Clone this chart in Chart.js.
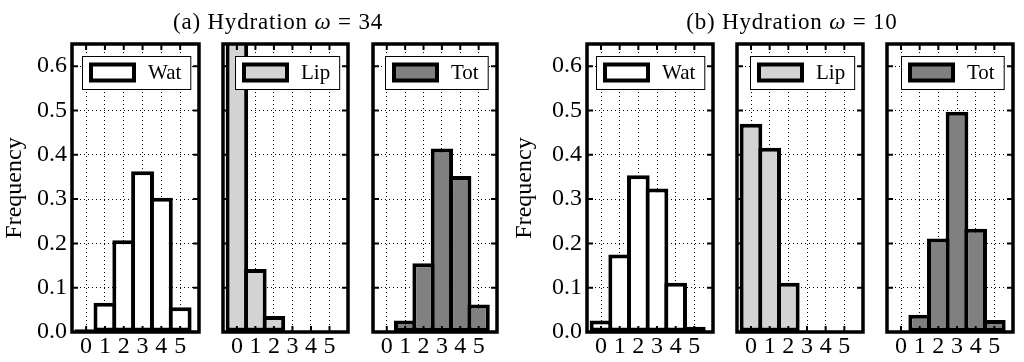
<!DOCTYPE html>
<html><head><meta charset="utf-8">
<script src="https://cdn.jsdelivr.net/npm/chart.js@4"></script>
<style>
html,body{margin:0;padding:0;background:#fff;}
#wrap{position:relative;width:1024px;height:362px;overflow:hidden;background:#fff;}
#wrap canvas{position:absolute;top:0;}
.ttl{position:absolute;top:10px;font-family:"Liberation Serif",serif;font-size:23px;line-height:23px;white-space:nowrap;text-align:center;width:300px;z-index:5;letter-spacing:0.8px;color:#000;}
</style></head><body>
<div id="wrap"></div>
<script>
// ---- data ----
const bins = [0, 1, 2, 3, 4, 5];
const yTicks = [0, 0.1, 0.2, 0.3, 0.4, 0.5, 0.6];
const watA = [0.006, 0.066, 0.207, 0.363, 0.303, 0.056];
const lipA = [0.819, 0.142, 0.036, 0.002, 0.001, 0.0];
const totA = [0.001, 0.026, 0.155, 0.414, 0.352, 0.062];
const watB = [0.026, 0.175, 0.354, 0.324, 0.111, 0.012];
const lipB = [0.470, 0.416, 0.111, 0.003, 0.001, 0.0];
const totB = [0.002, 0.039, 0.211, 0.497, 0.233, 0.027];
const groupTags = ['(a)', '(b)'];
const omegaValues = [34, 10];
const seriesLabels = ['Wat', 'Lip', 'Tot'];
const yLabel = 'Frequency';

// ---- styling / layout ----
const FONT = 'Liberation Serif';
const fills = ['#ffffff', '#d3d3d3', '#808080'];
const BW = 4;
const wrap = document.getElementById('wrap');

const frameLegend = {
  id: 'frameLegend',
  afterDraw(chart, args, o) {
    const {ctx, chartArea: a, scales: {x, y}} = chart;
    ctx.save();
    ctx.strokeStyle = '#000';
    ctx.lineWidth = 2;
    ctx.beginPath();
    x.ticks.forEach(t => {
      const px = x.getPixelForValue(t.value);
      ctx.moveTo(px, a.top); ctx.lineTo(px, a.top + 6);
      ctx.moveTo(px, a.bottom); ctx.lineTo(px, a.bottom - 6);
    });
    y.ticks.forEach(t => {
      const py = y.getPixelForValue(t.value);
      ctx.moveTo(a.left, py); ctx.lineTo(a.left + 6, py);
      ctx.moveTo(a.right, py); ctx.lineTo(a.right - 6, py);
    });
    ctx.stroke();
    ctx.lineWidth = 3.5;
    ctx.strokeRect(a.left, a.top, a.right - a.left, a.bottom - a.top);
    // legend
    ctx.font = '21px "' + FONT + '"';
    const tw = ctx.measureText(o.label).width;
    const bw = 8 + 44 + 14 + tw + 9, bh = 33;
    const bx = Math.round(a.right - 9 - bw), by = Math.round(a.top + 12);
    ctx.fillStyle = '#fff';
    ctx.fillRect(bx, by, bw, bh);
    ctx.lineWidth = 1;
    ctx.strokeRect(bx + 0.5, by + 0.5, bw, bh);
    ctx.fillStyle = o.fill;
    ctx.fillRect(bx + 9, by + bh / 2 - 8, 43, 16);
    ctx.lineWidth = 4;
    ctx.strokeRect(bx + 9, by + bh / 2 - 8, 43, 16);
    ctx.fillStyle = '#000';
    ctx.textBaseline = 'middle';
    ctx.textAlign = 'left';
    ctx.fillText(o.label, bx + 8 + 44 + 14, by + bh / 2 + 1);
    ctx.restore();
  }
};

function panel(canvasLeft, plotL, plotR, vals, si, showY) {
  const cv = document.createElement('canvas');
  const w = plotR + 4 - canvasLeft;
  cv.width = w; cv.height = 362;
  cv.style.left = canvasLeft + 'px';
  cv.style.width = w + 'px'; cv.style.height = '362px';
  wrap.appendChild(cv);
  const yw = showY ? plotL - canvasLeft : 0;
  const tickFont = {family: FONT, size: 24};
  new Chart(cv, {
    type: 'bar',
    data: {datasets: [{
      label: seriesLabels[si],
      data: bins.map((b, i) => ({x: b, y: vals[i]})),
      backgroundColor: fills[si], borderColor: '#000', borderWidth: BW,
      borderSkipped: false, barPercentage: 1 + BW / 18.7, categoryPercentage: 1, clip: 0
    }]},
    options: {
      responsive: false, animation: false, devicePixelRatio: 1,
      layout: {padding: {top: 44, right: 4, bottom: 0, left: showY ? 0 : 4}},
      plugins: {legend: {display: false}, tooltip: {enabled: false},
                frameLegend: {label: seriesLabels[si], fill: fills[si]}},
      scales: {
        x: {type: 'linear', min: -0.75, max: 6.0, offset: false, z: 1,
            afterBuildTicks: s => { s.ticks = bins.map(v => ({value: v})); },
            afterFit: s => { s.height = 30; },
            grid: {color: '#000', lineWidth: 1, drawTicks: false, offset: false},
            border: {display: false, dash: [1, 3]},
            ticks: {padding: 0, color: '#000', font: tickFont, maxRotation: 0, autoSkip: false,
                    callback: v => String(v)}},
        y: {min: 0, max: 0.65, z: 1,
            afterBuildTicks: s => { s.ticks = yTicks.map(v => ({value: v})); },
            afterFit: s => { s.width = yw; },
            grid: {color: '#000', lineWidth: 1, drawTicks: false},
            border: {display: false, dash: [1, 3]},
            ticks: {display: showY, padding: 5, color: '#000', font: tickFont,
                    callback: v => Number(v).toFixed(1)},
            title: {display: showY, text: yLabel, color: '#000', font: tickFont, padding: 0}}
      }
    },
    plugins: [frameLegend]
  });
}

panel(0, 72, 199, watA, 0, true);
panel(219, 223, 348, lipA, 1, false);
panel(369, 373, 497, totA, 2, false);
panel(510, 587, 713, watB, 0, true);
panel(733, 737, 863, lipB, 1, false);
panel(883, 887, 1013, totB, 2, false);

const titleCenters = [278, 792];
groupTags.forEach((g, i) => {
  const d = document.createElement('div');
  d.className = 'ttl';
  d.style.left = (titleCenters[i] - 150) + 'px';
  d.innerHTML = g + ' Hydration <i>ω</i> = ' + omegaValues[i];
  wrap.appendChild(d);
});
</script>
</body></html>
